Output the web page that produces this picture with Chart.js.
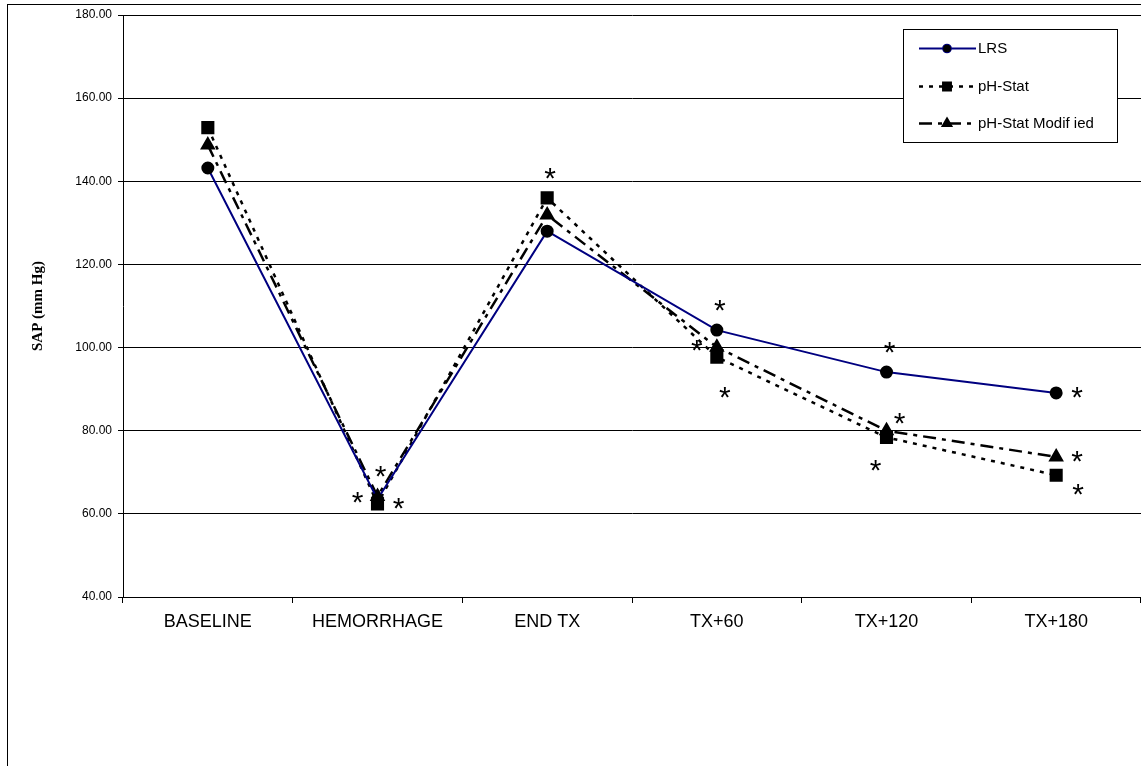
<!DOCTYPE html>
<html>
<head>
<meta charset="utf-8">
<script src="https://cdn.jsdelivr.net/npm/chart.js@4"></script>
<style>
  html, body { margin: 0; padding: 0; background: #fff; }
  #wrap { width: 1141px; height: 766px; }
</style>
</head>
<body>
<div id="wrap"><canvas id="myChart"></canvas></div>
<script>
// time points
const categories = ['BASELINE', 'HEMORRHAGE', 'END TX', 'TX+60', 'TX+120', 'TX+180'];

// SAP values (mm Hg)
const lrsValues = [143.2, 63.5, 128.0, 104.2, 94.1, 89.1];
const phStatValues = [152.9, 62.4, 136.0, 97.7, 78.4, 69.3];
const phModValues = [148.7, 64.2, 131.9, 100.1, 80.0, 73.7];

const seriesNames = ['LRS', 'pH-Stat', 'pH-Stat Modif ied'];
const yTicks = [40, 60, 80, 100, 120, 140, 160, 180];

// significance marks: [category index, series index, side]
const starMarks = [
  [1, 0, 'left'], [1, 1, 'right'], [1, 2, 'above'],
  [2, 1, 'above'],
  [3, 0, 'above'], [3, 2, 'left'], [3, 1, 'below'],
  [4, 0, 'above'], [4, 2, 'upright'], [4, 1, 'downleft'],
  [5, 0, 'right'], [5, 2, 'right'], [5, 1, 'downright']
];

const sideOffset = {
  left: [-20, -4], right: [21, -3], above: [3, -27],
  below: [8, 33], upright: [13, -15], downleft: [-11, 26], downright: [22, 12]
};

const allSeries = [lrsValues, phStatValues, phModValues];

const frame = {
  id: 'frame',
  beforeDraw(chart) {
    const c = chart.ctx;
    c.save();
    c.fillStyle = '#fff';
    c.fillRect(0, 0, chart.width, chart.height);
    c.strokeStyle = '#000';
    c.lineWidth = 1;
    c.strokeRect(7.5, 4.5, 1300, 1000);
    c.restore();
  }
};

const stars = {
  id: 'stars',
  afterDatasetsDraw(chart) {
    const c = chart.ctx;
    const xs = chart.scales.x, ys = chart.scales.y;
    c.save();
    c.fillStyle = '#000';
    c.font = '30px "Liberation Sans", Arial, sans-serif';
    c.textAlign = 'center';
    c.textBaseline = 'alphabetic';
    starMarks.forEach(m => {
      const off = sideOffset[m[2]];
      const px = xs.getPixelForValue(m[0]) + off[0];
      const py = ys.getPixelForValue(allSeries[m[1]][m[0]]) + off[1];
      c.fillText('*', px, py + 17);
    });
    c.restore();
  }
};

const boxLegend = {
  id: 'boxLegend',
  afterDraw(chart) {
    const c = chart.ctx;
    const x0 = 903, y0 = 29, w = 214, h = 113;
    c.save();
    c.fillStyle = '#fff';
    c.fillRect(x0, y0, w, h);
    c.strokeStyle = '#000';
    c.lineWidth = 1;
    c.strokeRect(x0 + 0.5, y0 + 0.5, w, h);
    const rows = [48, 86, 123];
    chart.data.datasets.forEach((ds, i) => {
      const y = rows[i] + 0.5;
      c.strokeStyle = ds.borderColor;
      c.lineWidth = ds.borderWidth;
      c.setLineDash(ds.borderDash || []);
      c.beginPath();
      c.moveTo(919, y);
      c.lineTo(976, y);
      c.stroke();
      c.setLineDash([]);
      Chart.helpers.drawPoint(c, {
        pointStyle: ds.pointStyle, radius: ds.pointRadius * 0.7, borderWidth: 1
      }, 947, y);
      c.fillStyle = '#000';
      c.fill();
      c.font = '15px "Liberation Sans", Arial, sans-serif';
      c.textAlign = 'left';
      c.textBaseline = 'middle';
      c.fillText(seriesNames[i], 978, y);
    });
    c.restore();
  }
};

const ctx = document.getElementById('myChart');
new Chart(ctx, {
  type: 'line',
  data: {
    labels: categories,
    datasets: [{
      label: seriesNames[0],
      data: lrsValues,
      borderColor: '#000080',
      borderWidth: 2,
      pointStyle: 'circle',
      pointRadius: 5.5,
      pointBackgroundColor: '#000',
      pointBorderColor: '#000'
    }, {
      label: seriesNames[1],
      data: phStatValues,
      borderColor: '#000',
      borderWidth: 2.5,
      borderDash: [4, 6],
      pointStyle: 'rect',
      pointRadius: 7.5,
      pointBackgroundColor: '#000',
      pointBorderColor: '#000'
    }, {
      label: seriesNames[2],
      data: phModValues,
      borderColor: '#000',
      borderWidth: 2.5,
      borderDash: [13, 6, 4, 6],
      pointStyle: 'triangle',
      pointRadius: 6.5,
      pointBackgroundColor: '#000',
      pointBorderColor: '#000'
    }]
  },
  options: {
    responsive: true,
    maintainAspectRatio: false,
    animation: false,
    layout: { autoPadding: false, padding: { top: 15, right: -4, bottom: 0, left: 1 } },
    plugins: { legend: { display: false }, tooltip: { enabled: false } },
    elements: { line: { tension: 0 } },
    scales: {
      x: {
        offset: true,
        grid: { offset: true, drawOnChartArea: false, tickLength: 6, color: '#000' },
        border: { color: '#000', width: 1 },
        ticks: {
          color: '#000', padding: 8, maxRotation: 0, autoSkip: false,
          font: { family: '"Liberation Sans", Arial, sans-serif', size: 18 }
        },
        afterFit(scale) {
          scale.height = 169;
          scale.paddingLeft = 0;
          scale.paddingRight = 0;
        }
      },
      y: {
        min: 40,
        max: 180,
        afterBuildTicks(scale) { scale.ticks = yTicks.map(v => ({ value: v })); },
        grid: { color: '#000', tickLength: 5 },
        border: { color: '#000', width: 1 },
        ticks: {
          color: '#000', padding: 6,
          font: { family: '"Liberation Sans", Arial, sans-serif', size: 12 },
          callback: v => Number(v).toFixed(2)
        },
        title: {
          display: true,
          text: 'SAP (mm Hg)',
          color: '#000',
          padding: { top: 28, bottom: 0 },
          font: { family: '"Liberation Serif", "Times New Roman", serif', size: 15, weight: 'bold' }
        },
        afterFit(scale) { scale.width = 122; }
      }
    }
  },
  plugins: [frame, stars, boxLegend]
});
</script>
</body>
</html>
